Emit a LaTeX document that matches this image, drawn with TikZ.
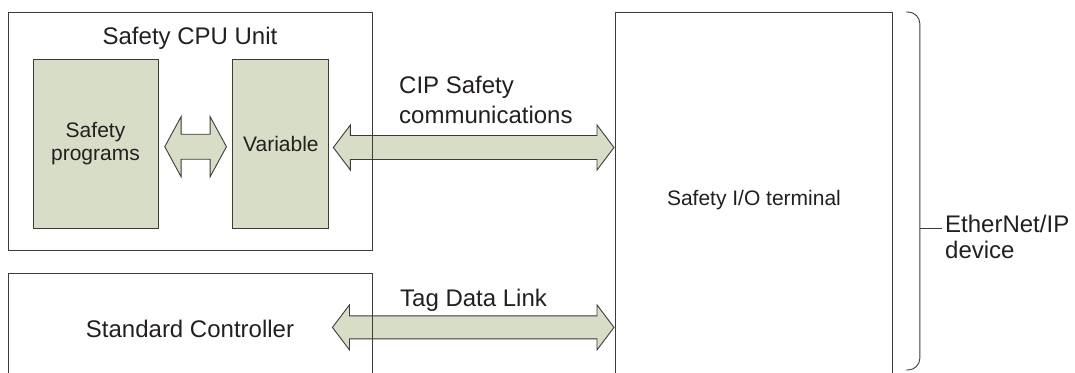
\documentclass[tikz,border=0pt]{standalone}
\usepackage{fontspec}
\setmainfont{Liberation Sans}
\usetikzlibrary{positioning,calc,backgrounds}

\definecolor{boxfill}{RGB}{215,221,199}
\definecolor{linegray}{RGB}{60,60,60}
\definecolor{txtgray}{RGB}{35,31,32}

% block arrow with two heads: start, end, shaft half width, head half width, head length
\newcommand{\blockarrow}[5]{%
  \draw[blockarr] let \p1=#1, \p2=#2 in
    (\x1,\y1) -- (\x1+#5,\y1+#4) -- (\x1+#5,\y1+#3) -- (\x2-#5,\y2+#3)
    -- (\x2-#5,\y2+#4) -- (\x2,\y2) -- (\x2-#5,\y2-#4) -- (\x2-#5,\y2-#3)
    -- (\x1+#5,\y1-#3) -- (\x1+#5,\y1-#4) -- cycle;}

\begin{document}
\begin{tikzpicture}[
    x=1pt, y=-1pt,
    box/.style={draw=linegray, line width=0.9pt, inner sep=0pt, text=txtgray, align=center},
    greenbox/.style={box, fill=boxfill, font=\fontsize{21}{23.3}\selectfont},
    lbl/.style={inner sep=0pt, text=txtgray, font=\fontsize{24}{30}\selectfont},
    blockarr/.style={draw=linegray, line width=0.9pt, fill=boxfill},
    brace/.style={draw=linegray, line width=0.9pt, rounded corners=12pt}
  ]
  \useasboundingbox (0,0) rectangle (1075,372);
  \clip (0,0) rectangle (1075,372);

  % safety CPU unit
  \node[box, minimum width=364pt, minimum height=238pt] (cpu) at (190,131) {};
  \node[lbl, below=15.5pt of cpu.north] (cputitle) {Safety CPU Unit};
  \node[greenbox, minimum width=125pt, minimum height=169pt] (prog) at (95.5,143.5) {Safety\\programs};
  \node[greenbox, right=74pt of prog, minimum width=96pt, minimum height=169pt] (var) {Variable};

  % standard controller and I/O terminal
  \node[box, lbl, draw=linegray, minimum width=364pt, minimum height=110pt, below=23pt of cpu] (std) {Standard Controller};
  \node[box, minimum width=277pt, minimum height=376pt, anchor=north west,
        font=\fontsize{21}{25}\selectfont] (io) at (615,12) {Safety I/O terminal};

  % communication arrows
  \coordinate (cipL) at ($(var.east)+(4,4)$);
  \coordinate (tagL) at ($(std.east)+(-40,-1.5)$);
  \begin{scope}[on background layer]
    \blockarrow{($(prog.east)+(6.3,3.2)$)}{($(var.west)+(-6,3.2)$)}{12.5pt}{30pt}{16.3pt}
    \blockarrow{(cipL)}{($(cipL -| io.west)+(-1,0)$)}{12pt}{22.5pt}{17pt}
    \blockarrow{(tagL)}{($(tagL -| io.west)+(-1,0)$)}{11.5pt}{22.5pt}{17pt}
  \end{scope}
  \node[lbl, align=left, anchor=north west] (ciptxt) at (399,75.5) {CIP Safety\\communications};
  \node[lbl, anchor=base west] (tagtxt) at (400,306) {Tag Data Link};

  % EtherNet/IP brace
  \coordinate (brtop) at ($(io.north east)+(13,0)$);
  \coordinate (brmid) at ($(io.north east)+(27,216)$);
  \draw[brace] (brtop) -- ++(14,0) -- ++(0,358) -- ++(-14,0);
  \node[lbl, align=left, anchor=north west, font=\fontsize{24}{26.7}\selectfont] (eth) at (945,214.5) {EtherNet/IP\\device};
  \draw[draw=linegray, line width=0.9pt, shorten >=3pt] (brmid) -- (brmid -| eth.west);
\end{tikzpicture}
\end{document}
